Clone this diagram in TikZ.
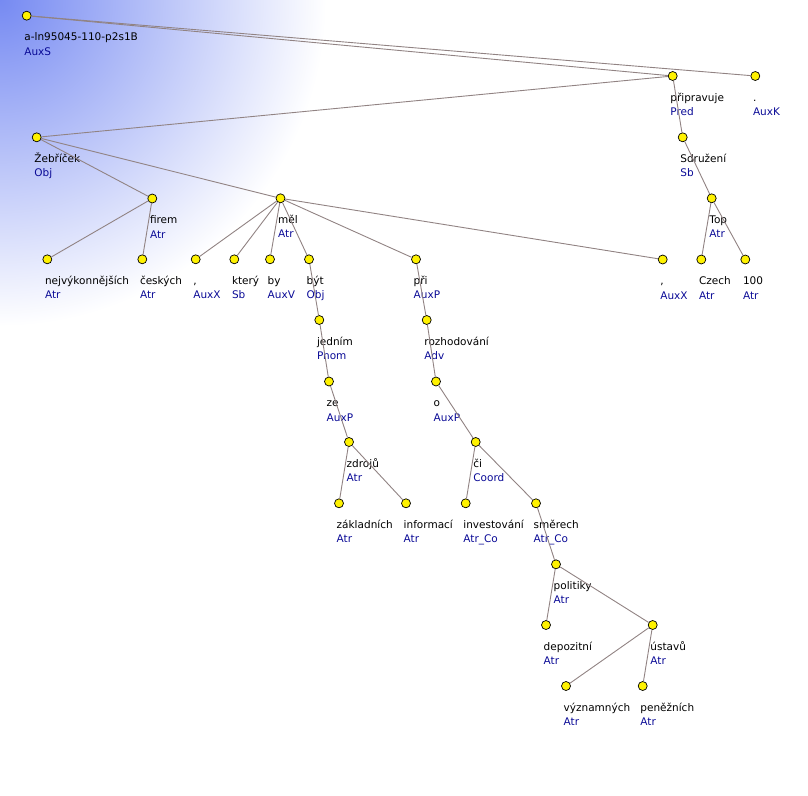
\documentclass[tikz,border=0pt]{standalone}
\usepackage{fontspec}
\setmainfont{DejaVu Sans}
\definecolor{bgblue}{RGB}{118,138,242}
\definecolor{edgec}{RGB}{145,131,131}
\definecolor{afunc}{RGB}{10,10,150}
\pgfdeclareradialshading{cornerglow}{\pgfpoint{0bp}{0bp}}{color(0bp)=(bgblue); color(325bp)=(white); color(340bp)=(white)}

\begin{document}
\begin{tikzpicture}[x=1pt, y=-1pt,
    tn/.style={circle, draw, line width=0.7pt, fill=yellow, inner sep=0pt, minimum size=9pt},
    wd/.style={anchor=base west, inner sep=0pt, xshift=-2.5pt, yshift=-20.3pt, font=\fontsize{10.5}{12}\selectfont},
    af/.style={anchor=base west, inner sep=0pt, xshift=-2.5pt, yshift=-34.8pt, font=\fontsize{10.5}{12}\selectfont, text=afunc},
    edge/.style={draw=edgec, line width=0.9pt}]
            \useasboundingbox (0,0) rectangle (808,795);
            \begin{scope}
                \clip (0,0) rectangle (808,795);
                \node[inner sep=0pt] (glow) at (0,0) {\pgfuseshading{cornerglow}};
            \end{scope}

            \node[tn, label={[wd]-90:a-ln95045-110-p2s1B}, label={[af]-90:AuxS}] (root) at (26.7, 15.7) {};
            \node[tn, label={[wd]-90:připravuje}, label={[af]-90:Pred}] (pri) at (672.7, 76) {};
            \node[tn, label={[wd]-90:.}, label={[af]-90:AuxK}] (dot) at (755.3, 76) {};
            \node[tn, label={[wd]-90:Žebříček}, label={[af]-90:Obj}] (zeb) at (36.7, 137.3) {};
            \node[tn, label={[wd]-90:Sdružení}, label={[af]-90:Sb}] (sdr) at (682.7, 137.3) {};
            \node[tn, label={[wd]-90:firem}, label={[af]-90:Atr}] (fir) at (152.3, 198.5) {};
            \node[tn, label={[wd]-90:měl}, label={[af]-90:Atr}] (mel) at (280.5, 198.3) {};
            \node[tn, label={[wd]-90:Top}, label={[af]-90:Atr}] (top) at (711.7, 198.3) {};

            \node[tn, label={[wd]-90:nejvýkonnějších}, label={[af]-90:Atr}] (nej) at (47.3, 259.3) {};
            \node[tn, label={[wd]-90:českých}, label={[af]-90:Atr}] (ces) at (142.3, 259.3) {};
            \node[tn, label={[wd]-90:{,}}, label={[af]-90:AuxX}] (ca) at (195.7, 259.3) {};
            \node[tn, label={[wd]-90:který}, label={[af]-90:Sb}] (kte) at (234.3, 259.3) {};
            \node[tn, label={[wd]-90:by}, label={[af]-90:AuxV}] (by) at (270, 259.3) {};
            \node[tn, label={[wd]-90:být}, label={[af]-90:Obj}] (byt) at (309, 259.3) {};
            \node[tn, label={[wd]-90:při}, label={[af]-90:AuxP}] (pr) at (416, 259.3) {};
            \node[tn, label={[wd]-90:{,}}, label={[af]-90:AuxX}] (cb) at (662.7, 259.5) {};
            \node[tn, label={[wd]-90:Czech}, label={[af]-90:Atr}] (cze) at (701.3, 259.5) {};
            \node[tn, label={[wd]-90:100}, label={[af]-90:Atr}] (sto) at (745.3, 259.5) {};

            \node[tn, label={[wd]-90:jedním}, label={[af]-90:Pnom}] (jed) at (319.3, 320) {};
            \node[tn, label={[wd]-90:rozhodování}, label={[af]-90:Adv}] (roz) at (426.7, 320) {};
            \node[tn, label={[wd]-90:ze}, label={[af]-90:AuxP}] (ze) at (329, 381.5) {};
            \node[tn, label={[wd]-90:o}, label={[af]-90:AuxP}] (o) at (436, 381.5) {};
            \node[tn, label={[wd]-90:zdrojů}, label={[af]-90:Atr}] (zdr) at (349, 442) {};
            \node[tn, label={[wd]-90:či}, label={[af]-90:Coord}] (ci) at (475.7, 442) {};
            \node[tn, label={[wd]-90:základních}, label={[af]-90:Atr}] (zak) at (339, 503.3) {};
            \node[tn, label={[wd]-90:informací}, label={[af]-90:Atr}] (inf) at (406, 503.3) {};
            \node[tn, label={[wd]-90:investování}, label={[af]-90:Atr\_Co}] (inv) at (465.7, 503.3) {};
            \node[tn, label={[wd]-90:směrech}, label={[af]-90:Atr\_Co}] (sme) at (536, 503.3) {};
            \node[tn, label={[wd]-90:politiky}, label={[af]-90:Atr}] (pol) at (556, 564.3) {};
            \node[tn, label={[wd]-90:depozitní}, label={[af]-90:Atr}] (dep) at (546, 625) {};
            \node[tn, label={[wd]-90:ústavů}, label={[af]-90:Atr}] (ust) at (652.7, 625) {};
            \node[tn, label={[wd]-90:významných}, label={[af]-90:Atr}] (vyz) at (566, 686) {};
            \node[tn, label={[wd]-90:peněžních}, label={[af]-90:Atr}] (pen) at (642.7, 686) {};

            \draw[edge] (root) -- (pri);
            \draw[edge] (root) -- (dot);
            \draw[edge] (pri) -- (zeb);
            \draw[edge] (pri) -- (sdr);
            \draw[edge] (zeb) -- (fir);
            \draw[edge] (zeb) -- (mel);
            \draw[edge] (fir) -- (nej);
            \draw[edge] (fir) -- (ces);
            \draw[edge] (mel) -- (ca);
            \draw[edge] (mel) -- (kte);
            \draw[edge] (mel) -- (by);
            \draw[edge] (mel) -- (byt);
            \draw[edge] (mel) -- (pr);
            \draw[edge] (mel) -- (cb);
            \draw[edge] (sdr) -- (top);
            \draw[edge] (top) -- (cze);
            \draw[edge] (top) -- (sto);
            \draw[edge] (byt) -- (jed);
            \draw[edge] (jed) -- (ze);
            \draw[edge] (ze) -- (zdr);
            \draw[edge] (zdr) -- (zak);
            \draw[edge] (zdr) -- (inf);
            \draw[edge] (pr) -- (roz);
            \draw[edge] (roz) -- (o);
            \draw[edge] (o) -- (ci);
            \draw[edge] (ci) -- (inv);
            \draw[edge] (ci) -- (sme);
            \draw[edge] (sme) -- (pol);
            \draw[edge] (pol) -- (dep);
            \draw[edge] (pol) -- (ust);
            \draw[edge] (ust) -- (vyz);
            \draw[edge] (ust) -- (pen);
        \end{tikzpicture}
\end{document}
